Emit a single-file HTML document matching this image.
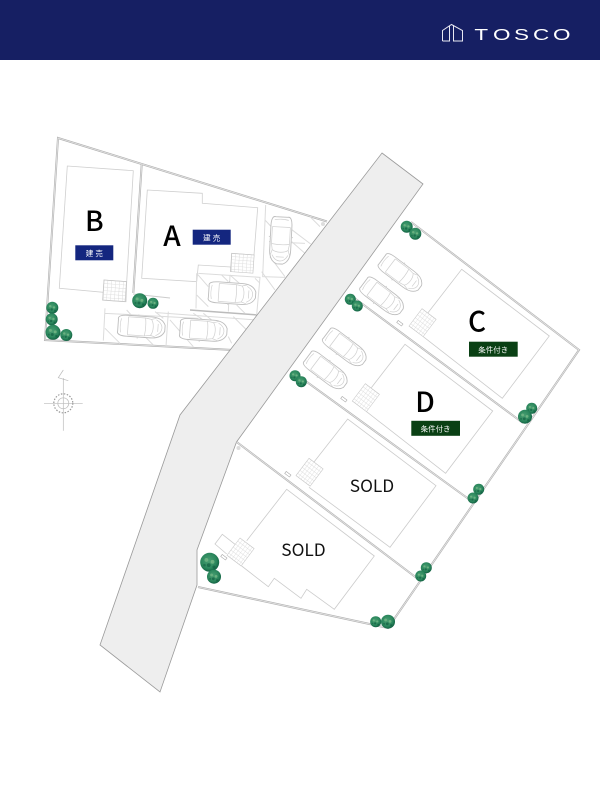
<!DOCTYPE html>
<html lang="ja"><head><meta charset="utf-8"><title>TOSCO</title>
<style>html,body{margin:0;padding:0;background:#fff}svg{display:block}
.j{font-family:"Liberation Sans","Noto Sans CJK JP",sans-serif}
.n{font-family:"Noto Sans CJK JP","Liberation Sans",sans-serif}</style></head><body>
<svg width="600" height="800" viewBox="0 0 600 800" xmlns="http://www.w3.org/2000/svg">
<defs>
<radialGradient id="tg" cx=".45" cy=".42" r=".62"><stop offset="0" stop-color="#4a9f72"/><stop offset=".65" stop-color="#2a865c"/><stop offset="1" stop-color="#0d5a3d"/></radialGradient>
<g id="tree"><circle r="1" fill="url(#tg)"/><circle cx="-.35" cy="-.25" r=".2" fill="#8cc592" opacity=".55"/><circle cx=".3" cy="-.05" r=".2" fill="#9ccf9a" opacity=".5"/><circle cx="-.1" cy=".3" r=".2" fill="#125f42" opacity=".7"/><circle cx=".45" cy=".5" r=".16" fill="#0f5a3e" opacity=".6"/><circle cx="-.55" cy=".3" r=".14" fill="#0f5a3e" opacity=".5"/></g>
<g id="car" fill="none" stroke="#cfcfcf" stroke-width=".7">
<path d="M-23-6C-24-9-20-10.500-14-10.500H10C17-10.500 22-8 24-3V3C22 8 17 10.500 10 10.500H-14C-20 10.500-24 9-23 6Z" fill="#fff" stroke="#bdbdbd" stroke-width=".9"/>
<path d="M-20-7C-21-3-21 3-20 7M-13-9V9M-13-9H4L10-8C13-4 13 4 10 8L4 9H-13M4-9C5-3 5 3 4 9M10-8L15-9.500M10 8L15 9.500M15-8C19-6 21-3 21 0C21 3 19 6 15 8M17-4V4"/>
<path d="M-3-10.500V-12M-3 10.500V12" stroke-width="1"/>
</g>
<g id="tile" fill="none" stroke="#dcdcdc" stroke-width=".5">
<path d="M4 0V23M8 0V23M12 0V23M16 0V23M20 0V23M0 4H23M0 8H23M0 12H23M0 16H23M0 20H23"/>
<path d="M0 0H23V23H0Z" stroke="#c6c6c6" stroke-width=".7"/>
</g>
</defs>

<rect width="600" height="60" fill="#161f63"/>
<g fill="none" stroke="#e8e8f2" stroke-width="1">
<path d="M442.500 41V30.500L451.500 24.500L462.500 30.500V41H453.500V25M449.500 26V41H442.500"/>
</g>
<text transform="scale(1.45,1)" y="40" x="327.200 340 354.500 367.600 381.400" class="j" font-size="15.500" fill="#fff">TOSCO</text>

<!-- upper-left lots -->
<g fill="none">
<path d="M327 221.500L58 138L45 340L233 350" stroke="#b4b4b4" stroke-width="2"/>
<path d="M327 221.500L58 138L45 340L233 350" stroke="#f2f2f2" stroke-width=".6"/>
<path d="M141.700 164.500L133.300 293" stroke="#b4b4b4" stroke-width="2"/>
<path d="M141.700 164.500L133.300 293" stroke="#f2f2f2" stroke-width=".6"/>
<path d="M133 294L258 315" stroke="none"/>
<path d="M190 310L258 315" stroke="#bbb" stroke-width="1.500"/>
<path d="M133 294L170 298" stroke="#ccc" stroke-width="1"/>
<g stroke="#cfcfcf" stroke-width=".8">
<path d="M67.300 166L133.300 170.700L126.700 281.700L104 280L103.300 292.300L59.300 288.300Z"/>
<path d="M147.300 190L202.300 193.300V203.300L257.700 207.700L254 255L231.700 253.300L231 271.700L230.700 267L198.300 265L196.700 281.700L141.700 278.300Z"/>
<path d="M103.300 292.300L103 300L126 301.700L126.700 281.700"/>
</g>
<g transform="translate(190,200) scale(.3333)" stroke="#dcdcdc" stroke-width="3">
<path d="M227 15L218 230L285 232M237 125L345 130M25 220L210 232L200 345M20 220L18 325M120 225L115 335M-100 338L200 360"/>
<path d="M225 60L290 130M300 85L362 132M240 170L285 230M305 125L345 160M215 215L255 270M120 225L165 265M20 220L55 260M95 225L115 245M20 285L55 320M140 315L165 340M195 235L210 250M130 350L170 390M40 340L65 360M115 410L125 430M360 50L390 80"/>
</g>
<g transform="translate(30,130) scale(.3333)" stroke="#dcdcdc" stroke-width="3">
<path d="M225 535L220 632M225 550L505 565M415 545L408 650"/>
<path d="M225 595L270 640M290 540L310 562M335 610L370 645M375 545L400 565M420 570L490 650M490 550L520 570"/>
</g>
</g>
<use href="#tile" transform="translate(104,280) rotate(4) scale(.98,.88)"/>
<use href="#tile" transform="translate(231.700,253.300) rotate(4) scale(.98,.8)"/>

<!-- road -->
<path d="M382 153L423 184L236.500 442L197 550V585L160 692L100 645L180 415Z" fill="#eee" stroke="#9a9a9a" stroke-width=".8"/>

<!-- right lots -->
<g fill="none">
<path d="M411 222L579 350L388 628L198 587" stroke="#b4b4b4" stroke-width="2"/>
<path d="M411 222L579 350L388 628L198 587" stroke="#f2f2f2" stroke-width=".6"/>
<path d="M353 297L523 423M300 377L470 500M236.700 442L416.700 578" stroke="#b4b4b4" stroke-width="2"/>
<path d="M353 297L523 423M300 377L470 500M236.700 442L416.700 578" stroke="#f2f2f2" stroke-width=".6"/>
<g stroke="#cbcbcb" stroke-width=".8">
<path d="M428 312.700L461.700 269.300L549.300 336L502.300 398.300L423.300 336.700"/>
<path d="M371.300 387.700L405 344.300L492.700 411L445.600 473.300L366.600 411.700"/>
<path d="M314 462L347.700 419L436 485.700L390 547.300L309 487.300"/>
<path d="M246.700 540.700L286.700 489.300L374.300 556L334.300 609.300L306.700 589.300L301 598.300L274.300 578.300L268.300 586.700L241.700 566"/>
<path d="M235 544.300L222.300 534.300L215 544L226.700 554"/>
</g>
</g>
<use href="#tile" transform="translate(422,308.700) rotate(37) scale(.77,.94)"/>
<use href="#tile" transform="translate(365.300,383.700) rotate(37) scale(.77,.94)"/>
<use href="#tile" transform="translate(309,458.300) rotate(37) scale(.77,.94)"/>
<use href="#tile" transform="translate(240,538) rotate(37) scale(.77,.94)"/>

<!-- small marks -->
<g fill="#fff" stroke="#aaa" stroke-width=".6">
<rect x="397" y="322" width="6" height="2.500" transform="rotate(37 400 323)"/>
<rect x="341" y="398" width="6" height="2.500" transform="rotate(37 344 399)"/>
<rect x="285" y="473" width="6" height="2.500" transform="rotate(37 288 474)"/>
<rect x="221" y="556" width="6" height="2.500" transform="rotate(37 224 557)"/>
</g>
<circle cx="238.500" cy="448" r="2" fill="#ddd"/><circle cx="323" cy="224" r="2" fill="#ddd"/>

<!-- cars -->
<use href="#car" transform="translate(280.700,240) rotate(93)"/>
<use href="#car" transform="translate(231.700,293.300) rotate(4)"/>
<use href="#car" transform="translate(141,326.700) rotate(4)"/>
<use href="#car" transform="translate(203,330) rotate(4)"/>
<use href="#car" transform="translate(400.700,273.300) rotate(37) scale(1,.92)"/>
<use href="#car" transform="translate(382.300,296.700) rotate(37) scale(1,.92)"/>
<use href="#car" transform="translate(345,347.700) rotate(37) scale(1,.92)"/>
<use href="#car" transform="translate(326,370.700) rotate(37) scale(1,.92)"/>

<!-- trees -->
<use href="#tree" transform="translate(139.700,300.700) scale(7.500)"/>
<use href="#tree" transform="translate(153,303.300) scale(5.500)"/>
<use href="#tree" transform="translate(52.300,307.700) scale(6)"/>
<use href="#tree" transform="translate(51.700,319.300) scale(6)"/>
<use href="#tree" transform="translate(53,332.300) scale(7.500)"/>
<use href="#tree" transform="translate(66.300,335) scale(6)"/>
<use href="#tree" transform="translate(406.700,226.700) scale(6)"/>
<use href="#tree" transform="translate(415.300,233.700) scale(6)"/>
<use href="#tree" transform="translate(350.300,299.300) scale(5.500)"/>
<use href="#tree" transform="translate(357.300,306) scale(5.500)"/>
<use href="#tree" transform="translate(295,375.700) scale(5.500)"/>
<use href="#tree" transform="translate(301.300,381.700) scale(5.500)"/>
<use href="#tree" transform="translate(531.700,408.300) scale(5.500)"/>
<use href="#tree" transform="translate(525,416.700) scale(7)"/>
<use href="#tree" transform="translate(478.700,489.300) scale(5.500)"/>
<use href="#tree" transform="translate(473,498) scale(5.500)"/>
<use href="#tree" transform="translate(426.300,567.700) scale(5.500)"/>
<use href="#tree" transform="translate(420.700,576) scale(5.500)"/>
<use href="#tree" transform="translate(375.700,621.700) scale(5.500)"/>
<use href="#tree" transform="translate(388,621.700) scale(7)"/>
<use href="#tree" transform="translate(209.700,562.300) scale(9.500)"/>
<use href="#tree" transform="translate(214,576.700) scale(7)"/>

<!-- compass -->
<g fill="none" stroke="#bbb" stroke-width=".7">
<path d="M44 403.300H82.700M63.300 378V430.700M63.300 370L58.300 377.700L68.300 380.700"/>
<circle cx="63.300" cy="403.300" r="9.500" stroke="#999" stroke-width="1.200" stroke-dasharray="1.500 1.500"/>
<circle cx="63.300" cy="403.300" r="5.500"/>
</g>

<!-- badges -->
<rect x="75.300" y="245.300" width="38" height="15" fill="#14267f"/>
<rect x="192.700" y="229.700" width="38" height="15" fill="#14267f"/>
<rect x="469" y="341.700" width="48.700" height="15" fill="#0a4014"/>
<rect x="411.300" y="420.800" width="48.700" height="15" fill="#0a4014"/>
<g class="j" font-size="7.500" fill="#fff" text-anchor="middle">
<text x="94.300" y="255.800">建 売</text>
<text x="211.700" y="240.300">建 売</text>
<text x="493.300" y="352.300">条件付き</text>
<text x="435.600" y="431.400">条件付き</text>
</g>
<g class="n" font-size="28" font-weight="500" fill="#000" text-anchor="middle">
<text x="94.300" y="231">B</text>
<text x="172" y="246">A</text>
<text x="477" y="331.500">C</text>
<text x="425" y="412">D</text>
</g>
<g class="n" font-size="17.300" fill="#111" text-anchor="middle">
<text x="372" y="491.800">SOLD</text>
<text x="303.500" y="556">SOLD</text>
</g>
</svg>
</body></html>
